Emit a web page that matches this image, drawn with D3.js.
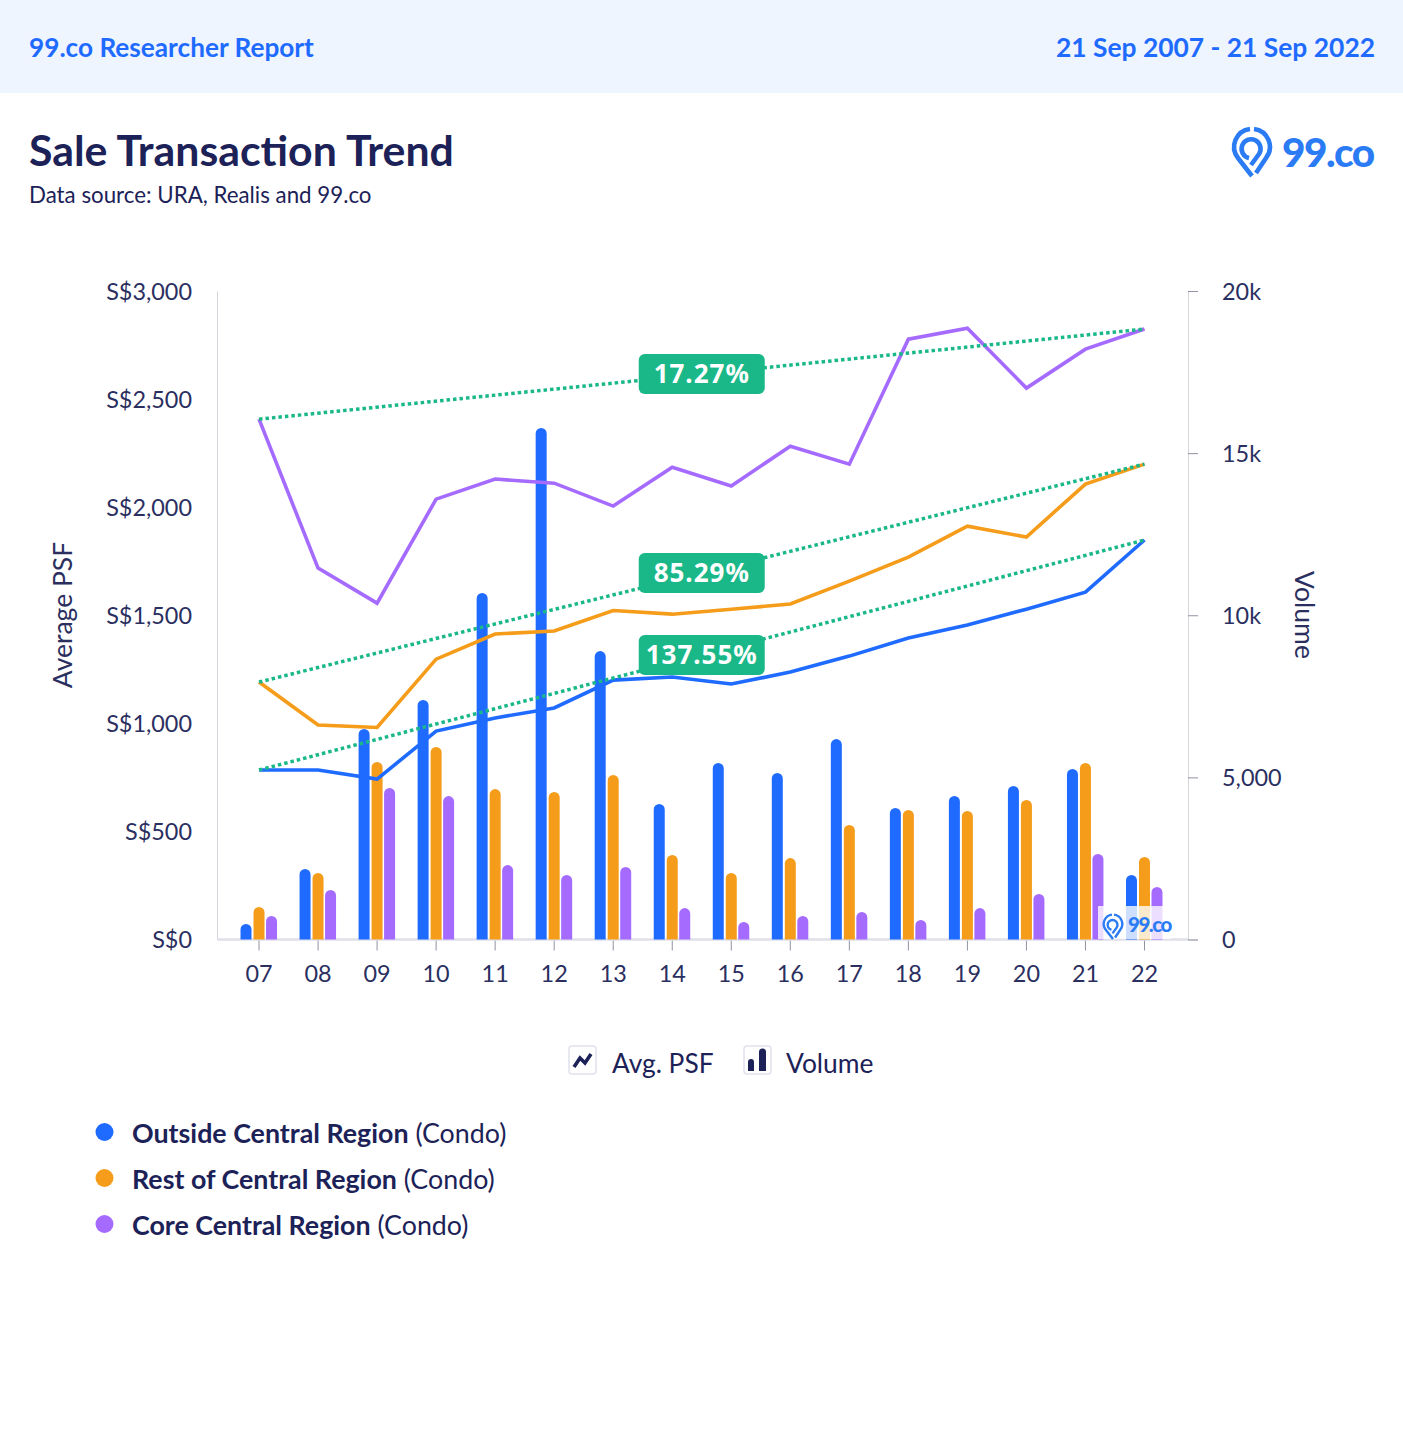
<!DOCTYPE html>
<html>
<head>
<meta charset="utf-8">
<script src="https://cdnjs.cloudflare.com/ajax/libs/d3/7.8.5/d3.min.js"></script>
<style>
  body { margin: 0; background: #fff; }
  svg { display: block; }
  text { font-family: Lato, "Open Sans", sans-serif; fill: #1c2257; }
</style>
</head>
<body>
<div id="chart"></div>
<script>
// values
const years = ["07","08","09","10","11","12","13","14","15","16","17","18","19","20","21","22"];
const psfTicks = [0, 500, 1000, 1500, 2000, 2500, 3000];
const volumeTicks = [0, 5000, 10000, 15000, 20000];

const ocrPsf = [784, 784, 742, 964, 1025, 1071, 1200, 1214, 1182, 1237, 1311, 1395, 1455, 1528, 1607, 1848];
const rcrPsf = [1191, 992, 981, 1297, 1413, 1427, 1522, 1505, 1528, 1552, 1658, 1769, 1912, 1862, 2107, 2199];
const ccrPsf = [2407, 1718, 1556, 2037, 2130, 2111, 2005, 2185, 2098, 2282, 2199, 2777, 2828, 2551, 2731, 2824];

const ocrVolume = [478, 2174, 6492, 7386, 10686, 15775, 8897, 4179, 5443, 5135, 6183, 4056, 4426, 4734, 5258, 1989];
const rcrVolume = [1002, 2051, 5474, 5937, 4641, 4549, 5073, 2606, 2051, 2513, 3531, 3994, 3963, 4302, 5443, 2544];
const ccrVolume = [725, 1527, 4672, 4425, 2297, 1989, 2236, 971, 540, 725, 848, 601, 971, 1403, 2637, 1619];

const regionNames = ["Outside Central Region", "Rest of Central Region", "Core Central Region"];
const regionColors = ["#1f6bff", "#f59c1a", "#a56bff"];
const growthLabels = ["137.55%", "85.29%", "17.27%"];

const blue = "#1f6bff", navy = "#1c2257", green = "#1ab888";

const svg = d3.select("#chart").append("svg")
  .attr("width", 1403)
  .attr("height", 1439);

// header
svg.append("rect").attr("width", 1403).attr("height", 93).attr("fill", "#eef5ff");
svg.append("text").attr("x", 29).attr("y", 56.5)
  .style("font-size", "26.2px").style("font-weight", 700).style("fill", blue)
  .text("99.co Researcher Report");
svg.append("text").attr("x", 1375).attr("y", 56.5).attr("text-anchor", "end")
  .style("font-size", "26.4px").style("font-weight", 700).style("fill", blue)
  .text("21 Sep 2007 - 21 Sep 2022");
svg.append("text").attr("x", 29).attr("y", 166)
  .style("font-size", "42.8px").style("font-weight", 700)
  .text("Sale Transaction Trend");
svg.append("text").attr("x", 29).attr("y", 203)
  .style("font-size", "22.3px")
  .text("Data source: URA, Realis and 99.co");

// pin + wordmark, used top right and as the chart watermark
function drawLogo(g, k, fontSize, textX, textY) {
  const pin = g.append("g").attr("transform", `scale(${k})`)
    .attr("fill", "none").attr("stroke", "#2b7bf5").attr("stroke-width", 4.6);
  pin.append("path").attr("d", "M-2,-18 A18,18 0 0 0 -14,11 L0,29");
  pin.append("path").attr("d", "M2,-18 A18,18 0 0 1 14,11 L4,26");
  pin.append("path").attr("d", "M-3,11 A9.5,9.5 0 1 1 7,7 L-1,18");
  g.append("text").attr("x", textX).attr("y", textY)
    .style("font-size", fontSize + "px").style("font-weight", 900)
    .style("letter-spacing", "-1.5px").style("fill", "#2b7bf5")
    .text("99.co");
}
drawLogo(svg.append("g").attr("transform", "translate(1252,147)"), 1, 40.5, 30, 20);

// scales
const x = d3.scaleBand().domain(years).range([229.5, 1174]).padding(0);
const yPsf = d3.scaleLinear().domain([0, 3000]).range([939.5, 291]);
const yVol = d3.scaleLinear().domain([0, 20000]).range([939.5, 291]);
const xOffset = d3.scaleOrdinal().domain([0, 1, 2]).range([-13, 0, 12.5]);

const fmtPsf = d => "S$" + d3.format(",")(d);
const fmtVol = d => d === 0 ? "0" : d >= 10000 ? (d / 1000) + "k" : d3.format(",")(d);

// axes
const axisLeft = svg.append("g").attr("transform", "translate(217,0)")
  .call(d3.axisLeft(yPsf).tickValues(psfTicks).tickFormat(fmtPsf).tickSize(0).tickPadding(25));
const axisRight = svg.append("g").attr("transform", "translate(1188,0)")
  .call(d3.axisRight(yVol).tickValues(volumeTicks).tickFormat(fmtVol).tickSize(10).tickPadding(24));
const axisBottom = svg.append("g").attr("transform", "translate(0,939.5)")
  .call(d3.axisBottom(x).tickSize(11).tickSizeOuter(0).tickPadding(15));

[axisLeft, axisRight, axisBottom].forEach(a => {
  a.selectAll("text").style("font-size", "23.4px").style("font-family", "Lato, sans-serif").style("fill", "#2a2f60");
  a.selectAll(".tick line").attr("stroke", "#8f93a3");
});
axisLeft.selectAll("text").attr("dy", "0.36em");
axisRight.selectAll("text").attr("dy", "0.36em");
axisLeft.select(".domain").attr("stroke", "#d5d5dc");
axisRight.select(".domain").attr("stroke", "#d5d5dc");
axisBottom.select(".domain").remove();
svg.append("line")
  .attr("x1", 217).attr("x2", 1188)
  .attr("y1", 939.5).attr("y2", 939.5)
  .attr("stroke", "#dfe0ea").attr("stroke-width", 2.5);

svg.append("text")
  .attr("transform", "translate(72,615) rotate(-90)")
  .attr("text-anchor", "middle")
  .style("font-size", "26.5px").style("fill", "#2a2f60")
  .text("Average PSF");
svg.append("text")
  .attr("transform", "translate(1295,615) rotate(90)")
  .attr("text-anchor", "middle")
  .style("font-size", "26.5px").style("fill", "#2a2f60")
  .text("Volume");

// volume bars
const barW = 11;
[ocrVolume, rcrVolume, ccrVolume].forEach((values, s) => {
  svg.append("g").selectAll("path")
    .data(values)
    .join("path")
    .attr("fill", regionColors[s])
    .attr("d", (d, i) => {
      const left = x(years[i]) + x.bandwidth() / 2 + xOffset(s) - barW / 2;
      const top = yVol(d), r = barW / 2;
      return `M${left},${yVol(0)}V${top + r}A${r},${r} 0 0 1 ${left + barW},${top + r}V${yVol(0)}Z`;
    });
});

// avg psf lines
const line = d3.line()
  .x((d, i) => x(years[i]) + x.bandwidth() / 2)
  .y(d => yPsf(d));
[ocrPsf, rcrPsf, ccrPsf].forEach((values, s) => {
  svg.append("path").datum(values)
    .attr("fill", "none")
    .attr("stroke", regionColors[s])
    .attr("stroke-width", 3.6)
    .attr("d", line);
});

// growth trend lines, first year to last year
const first = x(years[0]) + x.bandwidth() / 2;
const last = x(years[15]) + x.bandwidth() / 2;
const labelX = (first + last) / 2;
[ocrPsf, rcrPsf, ccrPsf].forEach((values, s) => {
  const y0 = yPsf(values[0]), y1 = yPsf(values[15]);
  svg.append("line")
    .attr("x1", first).attr("y1", y0)
    .attr("x2", last).attr("y2", y1)
    .attr("stroke", green).attr("stroke-width", 3.5)
    .attr("stroke-dasharray", "3.5,3");
  const cy = (y0 + y1) / 2;
  svg.append("rect")
    .attr("x", labelX - 63).attr("y", cy - 20)
    .attr("width", 126).attr("height", 40).attr("rx", 6)
    .attr("fill", green);
  svg.append("text")
    .attr("x", labelX).attr("y", cy + 9)
    .attr("text-anchor", "middle")
    .style("font-family", "'Noto Sans', sans-serif")
    .style("font-size", "26px").style("font-weight", 700)
    .style("letter-spacing", "1px")
    .style("fill", "#fff")
    .text(growthLabels[s]);
});

// watermark
svg.append("rect").attr("x", 1098).attr("y", 906).attr("width", 73).attr("height", 33)
  .attr("fill", "#fff").attr("fill-opacity", 0.78);
drawLogo(svg.append("g").attr("transform", "translate(1113,924)"), 0.52, 20.5, 15, 8);

// chart type legend
const typeLegend = svg.append("g");
typeLegend.append("rect").attr("x", 569).attr("y", 1046).attr("width", 27).attr("height", 28).attr("rx", 3)
  .attr("fill", "#fff").attr("stroke", "#e0e1ec").attr("stroke-width", 1.5);
typeLegend.append("path").attr("d", "M574,1067 L580,1058 L585,1063 L591,1054")
  .attr("fill", "none").attr("stroke", navy).attr("stroke-width", 3.6);
typeLegend.append("text").attr("x", 612).attr("y", 1073).style("font-size", "26.3px").text("Avg. PSF");
typeLegend.append("rect").attr("x", 744).attr("y", 1046).attr("width", 27).attr("height", 28).attr("rx", 3)
  .attr("fill", "#fff").attr("stroke", "#e0e1ec").attr("stroke-width", 1.5);
typeLegend.append("path").attr("d", "M748,1071V1062a3,3 0 0 1 6,0V1071Z M759,1071V1052a3.5,3.5 0 0 1 7,0V1071Z").attr("fill", navy);
typeLegend.append("text").attr("x", 786).attr("y", 1073).style("font-size", "26.4px").text("Volume");

// region legend
const legend = svg.selectAll(".legend")
  .data(regionNames)
  .join("g")
  .attr("class", "legend")
  .attr("transform", (d, i) => `translate(0, ${1133 + i * 46})`);
legend.append("circle").attr("cx", 104.5).attr("cy", -1).attr("r", 9).attr("fill", (d, i) => regionColors[i]);
const legendText = legend.append("text").attr("x", 132).attr("y", 10).style("font-size", "26.8px");
legendText.append("tspan").style("font-weight", 700).text(d => d);
legendText.append("tspan").text(" (Condo)");
</script>
</body>
</html>
